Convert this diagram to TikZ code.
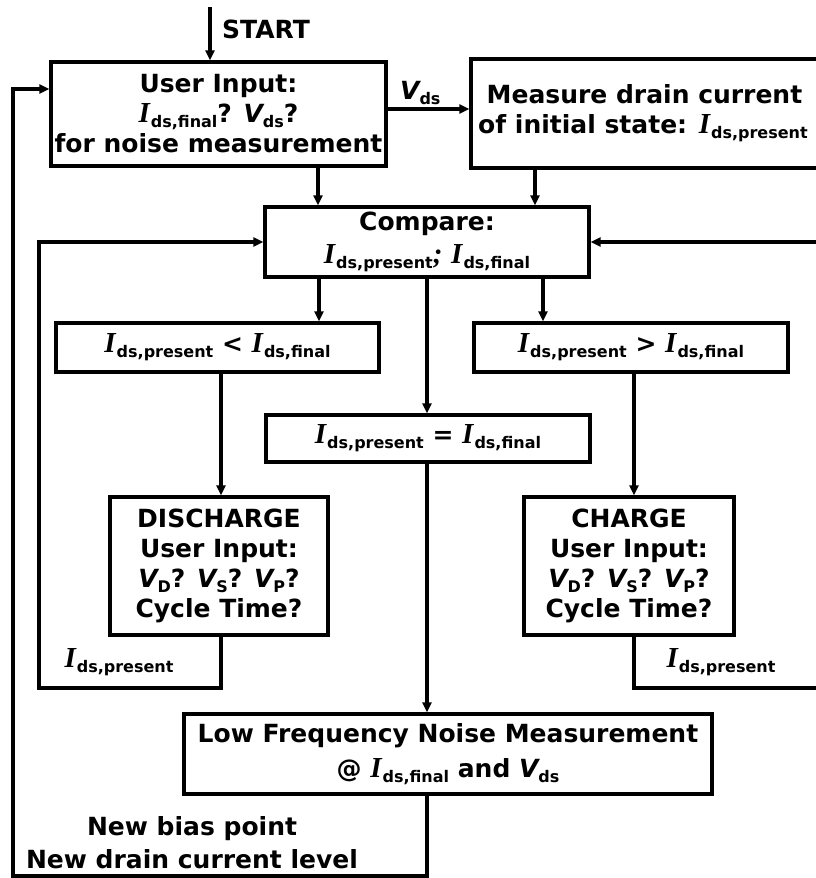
\documentclass[tikz,border=0pt]{standalone}
\usepackage{fontspec}
\setmainfont{DejaVu Sans}
\newfontfamily\serI{Liberation Serif}
\usetikzlibrary{arrows.meta}
\newcommand\fsz[1]{\fontsize{#1}{#1}\selectfont}
\newcommand\Ic[1]{{\serI\bfseries\itshape\fsz{29}I}\kern1pt\raisebox{-5pt}{\fsz{16}#1}}
\newcommand\Vc[1]{{\itshape V}\raisebox{-5pt}{\fsz{16}#1}}
\begin{document}
\begin{tikzpicture}[x=1pt,y=-1pt,
  box/.style={draw, line width=3.4pt, inner sep=0pt, align=center,
    font=\bfseries\fontsize{25}{30}\selectfont},
  lbl/.style={inner sep=0pt, align=center, font=\bfseries\fontsize{25}{33}\selectfont},
  arr/.style={line width=3.2pt, -{Triangle[length=10pt,width=9pt]}}]
\useasboundingbox (0,0) rectangle (816,878);

\node[box, minimum width=335pt, minimum height=104pt] (user) at (218.5,114)
  {User Input:\\\Ic{ds,final}? \Vc{ds}?\\for noise measurement};
\node[box, minimum width=347pt, minimum height=109pt] (meas) at (644.5,113.5)
  {Measure drain current\\of initial state: \Ic{ds,present}\hspace*{3pt}};
\node[box, minimum width=324pt, minimum height=70pt, font=\bfseries\fontsize{25}{33}\selectfont] (cmp) at (427,242)
  {Compare:\\\Ic{ds,present}{\serI\bfseries\itshape\fsz{29};} \Ic{ds,final}};
\node[box, minimum width=323pt, minimum height=49pt] (condL) at (217.5,347.5)
  {\Ic{ds,present} < \Ic{ds,final}};
\node[box, minimum width=314pt, minimum height=49pt] (condR) at (631,347.5)
  {\Ic{ds,present} > \Ic{ds,final}};
\node[box, minimum width=324pt, minimum height=47pt] (mid) at (428,438.5)
  {\Ic{ds,present} = \Ic{ds,final}};
\node[box, minimum width=218pt, minimum height=138pt] (dis) at (219,566)
  {DISCHARGE\\User Input:\\\Vc{D}? \Vc{S}? \Vc{P}?\\Cycle Time?};
\node[box, minimum width=210pt, minimum height=138pt] (chg) at (629,566)
  {CHARGE\\User Input:\\\Vc{D}? \Vc{S}? \Vc{P}?\\Cycle Time?};
\node[box, minimum width=528pt, minimum height=80pt, font=\bfseries\fontsize{25}{35}\selectfont] (lfn) at (448,754)
  {Low Frequency Noise Measurement\\@ \Ic{ds,final} and \Vc{ds}};

% start
\coordinate (st) at (210,7);
\draw[arr] (st) -- (user.north -| st);
\node[lbl, anchor=west] (startlbl) at (222,29) {START};

% Vds
\draw[arr] ([yshift=5pt]user.east) -- ([yshift=5pt]user.east -| meas.west)
  node[pos=0.4, above=3pt, lbl] (vdslbl) {\Vc{ds}};

% to compare
\coordinate (xa) at (318,0);
\coordinate (xb) at (535,0);
\draw[arr] (user.south -| xa) -- (cmp.north -| xa);
\draw[arr] (meas.south -| xb) -- (cmp.north -| xb);

% from compare
\coordinate (xl) at (319,0);
\coordinate (xr) at (543,0);
\coordinate (xm) at (427,0);
\draw[arr] (cmp.south -| xl) -- (condL.north -| xl);
\draw[arr] (cmp.south -| xr) -- (condR.north -| xr);
\draw[arr] (cmp.south -| xm) -- (mid.north -| xm);

\coordinate (xdl) at (221,0);
\coordinate (xdr) at (634,0);
\draw[arr] (condL.south -| xdl) -- (dis.north -| xdl);
\draw[arr] (condR.south -| xdr) -- (chg.north -| xdr);

% loops
\coordinate (lloop) at (39,688);
\coordinate (rloop) at (819,688);
\draw[arr] (dis.south -| xdl) |- (lloop) |- (cmp.west);
\draw[arr] (chg.south -| xdr) |- (rloop) |- (cmp.east);
\node[lbl] (ipl) at (119,662) {\Ic{ds,present}};
\node[lbl] (ipr) at (721,662) {\Ic{ds,present}};

% to lfn
\draw[arr] (mid.south -| xm) -- (lfn.north -| xm);

% back to start
\coordinate (bl) at (13,876);
\draw[arr] (lfn.south -| xm) |- (bl) |- ([yshift=25pt]user.west);
\node[lbl] (newb) at (192,843) {New bias point\\New drain current level};
\end{tikzpicture}
\end{document}
